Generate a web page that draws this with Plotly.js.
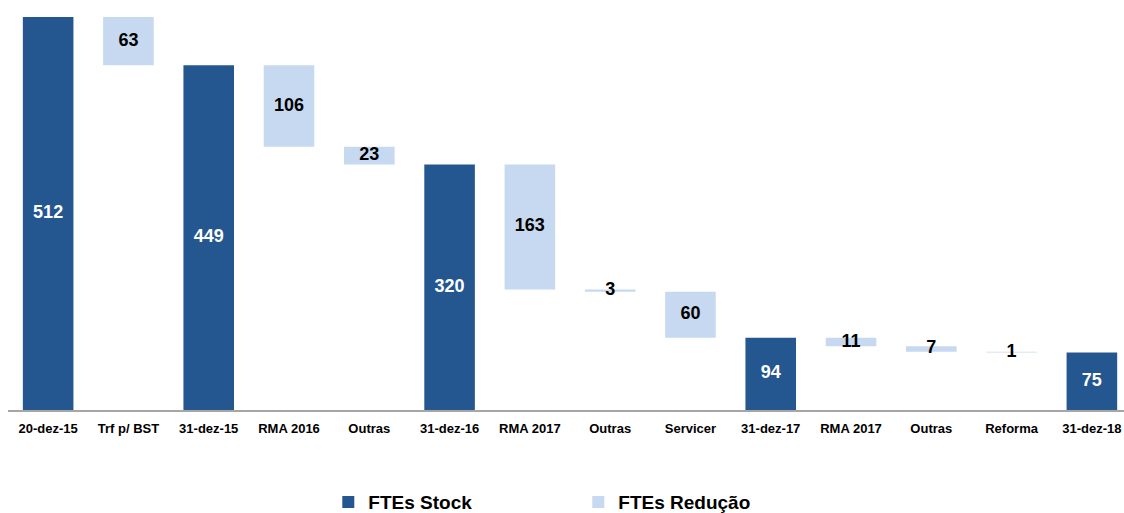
<!DOCTYPE html>
<html>
<head>
<meta charset="utf-8">
<script src="https://cdn.plot.ly/plotly-3.0.1.min.js"></script>
<style>
  body { margin: 0; background: #fff; }
  #vis { width: 1124px; height: 513px; }
</style>
</head>
<body>
<div id="vis"></div>
<script>
// category labels (some repeat, so x is an index)
const categories = ['20-dez-15', 'Trf p/ BST', '31-dez-15', 'RMA 2016', 'Outras', '31-dez-16',
  'RMA 2017', 'Outras', 'Servicer', '31-dez-17', 'RMA 2017', 'Outras', 'Reforma', '31-dez-18']

// FTEs Stock
const stock = [512, null, 449, null, null, 320, null, null, null, 94, null, null, null, 75]
// FTEs Redução
const reducao = [null, 63, null, 106, 23, null, 163, 3, 60, null, 11, 7, 1, null]

const xs = categories.map((c, i) => i)

// floating bars hang from the running total
const base = []
let running = 0
for (let i = 0; i < categories.length; i++) {
  if (stock[i] != null) { running = stock[i]; base.push(null); continue }
  running = running - reducao[i]
  base.push(running)
}

const DARK = '#24568f'
const LIGHT = '#c6d9f0'

const stockTrace = {
  type: 'bar',
  name: 'FTEs Stock',
  x: xs,
  y: stock,
  width: 0.63,
  marker: { color: DARK },
  hoverinfo: 'skip'
}

const redTrace = {
  type: 'bar',
  name: 'FTEs Redução',
  x: xs,
  y: reducao,
  base: base,
  width: 0.63,
  marker: { color: LIGHT },
  hoverinfo: 'skip'
}

// labels sit in the middle of each bar
const lx = [], ly = [], lt = [], lc = []
xs.forEach(i => {
  if (stock[i] != null) {
    lx.push(i); ly.push(stock[i] / 2); lt.push(String(stock[i])); lc.push('#ffffff')
  } else {
    lx.push(i); ly.push(base[i] + reducao[i] / 2); lt.push(String(reducao[i])); lc.push('#000000')
  }
})

const labels = {
  type: 'scatter',
  mode: 'text',
  x: lx,
  y: ly,
  text: lt,
  textposition: 'middle center',
  textfont: { family: 'Liberation Sans, Arial, sans-serif', size: 18, color: lc, weight: 'bold' },
  showlegend: false,
  hoverinfo: 'skip'
}

const layout = {
  width: 1124,
  height: 513,
  margin: { l: 8, r: 0, t: 17, b: 103, autoexpand: false },
  barmode: 'overlay',
  paper_bgcolor: '#ffffff',
  plot_bgcolor: '#ffffff',
  font: { family: 'Liberation Sans, Arial, sans-serif', color: '#000' },
  xaxis: {
    range: [-0.5, 13.4],
    tickvals: xs,
    ticktext: categories,
    tickangle: 0,
    tickfont: { size: 13, weight: 'bold' },
    showgrid: false,
    zeroline: false,
    showline: true,
    linecolor: '#a6a6a6',
    linewidth: 2,
    ticks: 'outside',
    ticklen: 5,
    tickcolor: 'rgba(0,0,0,0)'
  },
  yaxis: {
    range: [0, 512],
    visible: false,
    showgrid: false,
    zeroline: false,
    fixedrange: true
  },
  showlegend: true,
  legend: {
    orientation: 'h',
    x: 0.287,
    xanchor: 'left',
    y: -0.186,
    yanchor: 'top',
    font: { size: 19, weight: 'bold' },
    entrywidth: 205,
    entrywidthmode: 'pixels',
    itemclick: false
  }
}

Plotly.newPlot('vis', [stockTrace, redTrace, labels], layout, { displayModeBar: false, staticPlot: true })
</script>
</body>
</html>
